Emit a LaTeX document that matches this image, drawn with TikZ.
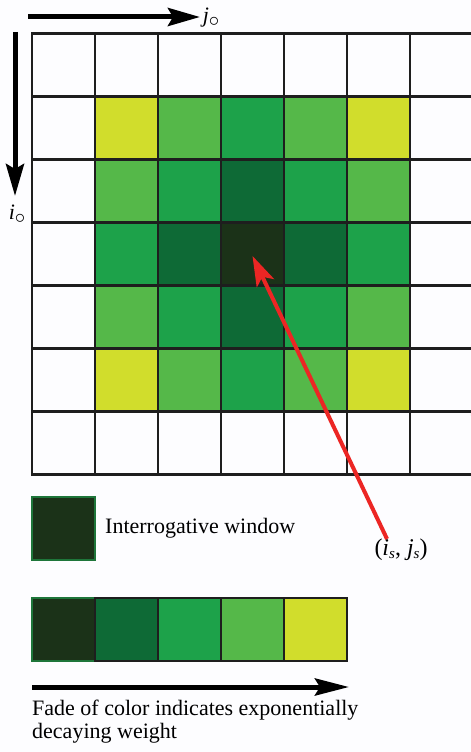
\documentclass[tikz,border=0pt]{standalone}
\usepackage{fontspec}
\setmainfont{Liberation Serif}
\usetikzlibrary{arrows.meta}
\definecolor{w0}{RGB}{27,50,24}
\definecolor{w1}{RGB}{14,106,54}
\definecolor{w2}{RGB}{29,162,74}
\definecolor{w3}{RGB}{85,184,73}
\definecolor{w4}{RGB}{209,221,44}
\definecolor{w9}{RGB}{253,253,255}
\definecolor{gborder}{RGB}{30,118,58}
\definecolor{redarrow}{RGB}{236,38,36}
\definecolor{gridline}{RGB}{30,30,30}
\newcommand{\mysub}[1]{\raisebox{-3pt}{\fontsize{15}{15}\selectfont #1}}
\newcommand{\mycirc}{\raisebox{-4pt}{\fontsize{20}{20}\selectfont$\circ$}}
\tikzset{
  cell/.style={draw=gridline, line width=2.6pt, minimum size=63pt, inner sep=0pt, outer sep=0pt, rectangle},
  gcell/.style={draw=gborder, line width=2pt, minimum size=63pt, inner sep=0pt, outer sep=0pt, rectangle, fill=w0},
  bigarrow/.style={line width=5pt, -{Stealth[length=32pt,width=18pt,inset=5pt]}},
  lbl/.style={font=\fontsize{22}{23}\selectfont, inner sep=0pt}
}
\begin{document}
\begin{tikzpicture}[x=1pt,y=-1pt]
\useasboundingbox (0,0) rectangle (471,752);
\fill[w9] (0,0) rectangle (471,752);
\begin{scope}
\clip (0,0) rectangle (471,752);
\foreach \r in {0,...,6}{
  \foreach \c in {0,...,6}{
    \pgfmathtruncatemacro\d{(\r==0 || \r==6 || \c==0 || \c==6) ? 9 : abs(\r-3)+abs(\c-3)}
    \node[cell, fill=w\d] (c\r\c) at ({32+31.5+63*\c},{33.5+31.5+63*\r}) {};
  }
}
\end{scope}
% axes
\coordinate (ja) at (28,17);
\coordinate (jb) at (200,17);
\draw[bigarrow] (ja) -- (jb);
\node[lbl] (jo) at (211,18) {\textit{j}\mycirc};
\coordinate (ia) at (15,32);
\coordinate (ib) at (15,196);
\draw[bigarrow] (ia) -- (ib);
\node[lbl] (io) at (17,214) {\textit{i}\mycirc};
% red arrow
\node[lbl, font=\fontsize{24}{25}\selectfont] (is) at (401,550) {(\textit{i}\mysub{\textit{s}}, \textit{j}\mysub{\textit{s}})};
\draw[redarrow, line width=4pt, -{Stealth[length=30pt,width=19pt,inset=7pt]}] ([xshift=-14pt]is.north) -- ([yshift=-2pt]c33.center);
% legend
\node[gcell] (win) at (63.5,528.5) {};
\node[lbl, anchor=base west] (wintext) at (105,533) {Interrogative window};
\node[gcell] (b0) at (63.5,629.5) {};
\node[cell, fill=w1] (b1) at (126.5,629.5) {};
\node[cell, fill=w2] (b2) at (189.5,629.5) {};
\node[cell, fill=w3] (b3) at (252.5,629.5) {};
\node[cell, fill=w4] (b4) at (315.5,629.5) {};
\coordinate (fa) at (32,687);
\coordinate (fb) at (349,687);
\draw[line width=5pt, -{Stealth[length=34pt,width=17pt,inset=5pt]}] (fa) -- (fb);
\node[lbl, anchor=base west] (fade1) at (32,715) {Fade of color indicates exponentially};
\node[lbl, anchor=base west] (fade2) at (32,738) {decaying weight};
\end{tikzpicture}
\end{document}
